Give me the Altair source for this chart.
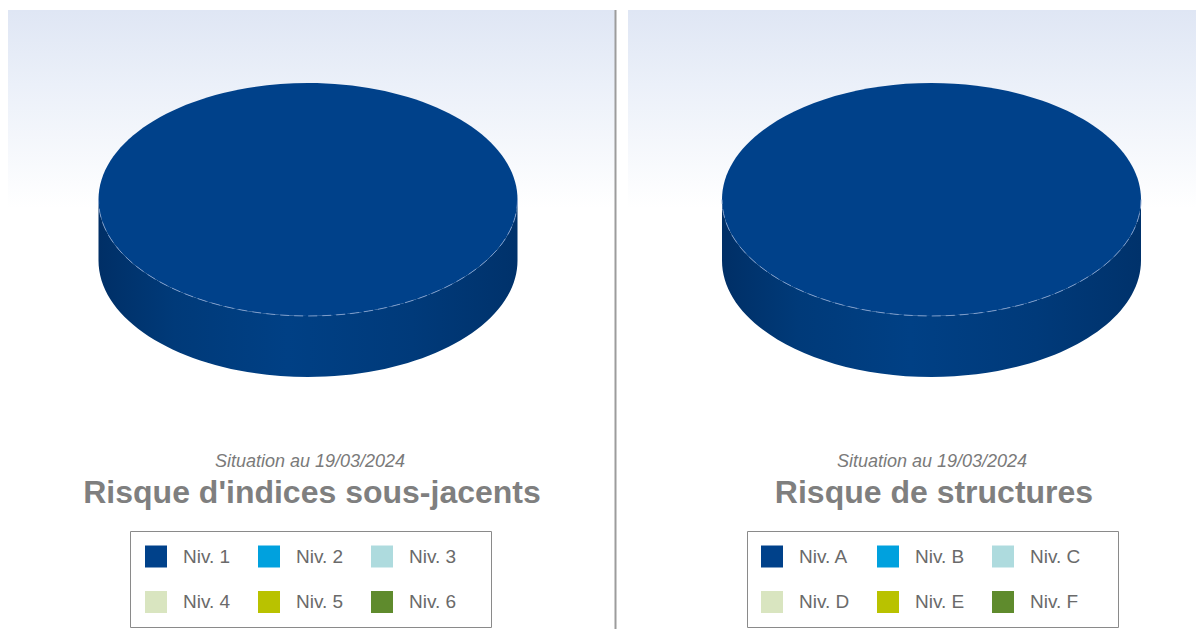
import math
import altair as alt
import pandas as pd

# ---------------- data ----------------
LEVELS_LEFT = ["Niv. 1", "Niv. 2", "Niv. 3", "Niv. 4", "Niv. 5", "Niv. 6"]
VALUES_LEFT = [100, 0, 0, 0, 0, 0]
LEVELS_RIGHT = ["Niv. A", "Niv. B", "Niv. C", "Niv. D", "Niv. E", "Niv. F"]
VALUES_RIGHT = [100, 0, 0, 0, 0, 0]
COLORS = ["#00418a", "#00a1de", "#aedbde", "#d9e5c0", "#b9c200", "#5f8b2d"]
SUBTITLE = "Situation au 19/03/2024"
TITLE_LEFT = "Risque d'indices sous-jacents"
TITLE_RIGHT = "Risque de structures"

# ---------------- style ----------------
FONT = "Liberation Sans"
PANEL_H = 621
RY = 0.556      # vertical / horizontal radius of the pie (tilt)
DEPTH = 0.291   # thickness of the pie, relative to horizontal radius
RX_PX = 209.5
SIZE = (2 * RX_PX) ** 2
SIDE_STOPS = [(0, "#002f66"), (0.18, "#003a79"), (0.45, "#004085"),
              (0.75, "#003a7a"), (1, "#00326b")]


def pt(t, dy):
    return (math.cos(t), RY * math.sin(t) + dy)


def arc_cmds(t0, t1, dy):
    n = max(1, math.ceil(abs(t1 - t0) / (math.pi / 2) - 1e-9))
    step = (t1 - t0) / n
    out = []
    for i in range(n):
        a = t0 + i * step
        b = a + step
        k = 4 / 3 * math.tan((b - a) / 4)
        x0, y0 = pt(a, dy)
        x3, y3 = pt(b, dy)
        x1, y1 = x0 - k * math.sin(a), y0 + k * RY * math.cos(a)
        x2, y2 = x3 + k * math.sin(b), y3 - k * RY * math.cos(b)
        out.append(f"C {x1:.4f} {y1:.4f} {x2:.4f} {y2:.4f} {x3:.4f} {y3:.4f}")
    return " ".join(out)


def slice_paths(a0, a1):
    full = (a1 - a0) >= 2 * math.pi - 1e-9
    x0, y0 = pt(a0, 0)
    if full:
        top = f"M {x0:.4f} {y0:.4f} " + arc_cmds(a0, a1, 0) + " Z"
    else:
        top = f"M 0 0 L {x0:.4f} {y0:.4f} " + arc_cmds(a0, a1, 0) + " Z"
    lo, hi = max(a0, 0.0), min(a1, math.pi)
    side = edge = None
    if hi > lo:
        lx, ly = pt(lo, 0)
        hx, hy = pt(hi, DEPTH)
        side = (f"M {lx:.4f} {ly:.4f} " + arc_cmds(lo, hi, 0)
                + f" L {hx:.4f} {hy:.4f} " + arc_cmds(hi, lo, DEPTH) + " Z")
        edge = f"M {lx:.4f} {ly:.4f} " + arc_cmds(lo, hi, 0)
    return top, side, edge


def one():
    return alt.Data(values=[{}])


def panel(levels, values, title, width, cx, tx, box, leg_x, divider):
    cy = 191.5
    df = pd.DataFrame({"niveau": levels, "valeur": values})
    color = alt.Color(
        "niveau:N",
        scale=alt.Scale(domain=levels, range=COLORS),
        legend=alt.Legend(
            orient="none", legendX=leg_x, legendY=537.5, columns=3,
            direction="horizontal",
            symbolType="square", symbolSize=484, symbolStrokeWidth=0,
            symbolOpacity=1,
            labelFont=FONT, labelFontSize=19, labelColor="#6a6a6a",
            labelOffset=16, columnPadding=27, rowPadding=23.5,
            padding=0, title=None,
        ),
    )
    layers = []
    bg = alt.Chart(one()).mark_rect(
        fill=alt.LinearGradient(
            gradient="linear", x1=0, y1=0, x2=0, y2=1,
            stops=[alt.GradientStop(offset=0, color="#dfe6f4"),
                   alt.GradientStop(offset=0.12, color="#ebf0f9"),
                   alt.GradientStop(offset=0.32, color="#ffffff"),
                   alt.GradientStop(offset=1, color="#ffffff")]),
    ).encode(x=alt.value(0), x2=alt.value(width if not divider else 607),
             y=alt.value(2), y2=alt.value(PANEL_H))
    layers.append(bg)
    if divider:
        layers.append(alt.Chart(one()).mark_rule(stroke="#9c9c9c", strokeWidth=2).encode(
            x=alt.value(607.5), y=alt.value(2), y2=alt.value(PANEL_H)))

    total = sum(values)
    start = -math.pi / 2
    for lev, val in zip(levels, values):
        if val <= 0:
            continue
        a0 = start
        a1 = start + 2 * math.pi * val / total
        start = a1
        top, side, edge = slice_paths(a0, a1)
        row = df[df["niveau"] == lev]
        if side:
            layers.append(alt.Chart(row).mark_point(
                shape=side, filled=True, size=SIZE, opacity=1, strokeWidth=0,
                fill=alt.LinearGradient(
                    gradient="linear", x1=0, y1=0, x2=1, y2=0,
                    stops=[alt.GradientStop(offset=o, color=c) for o, c in SIDE_STOPS]),
            ).encode(x=alt.value(cx), y=alt.value(cy)))
        layers.append(alt.Chart(row).mark_point(
            shape=top, filled=True, size=SIZE, opacity=1, strokeWidth=0,
        ).encode(x=alt.value(cx), y=alt.value(cy), color=color))
        if edge:
            layers.append(alt.Chart(row).mark_point(
                shape=edge, filled=False, size=SIZE, opacity=0.9,
                stroke="#86a3cf", strokeWidth=1, strokeDash=[9, 5],
            ).encode(x=alt.value(cx), y=alt.value(cy)))

    layers.append(alt.Chart(pd.DataFrame({"t": [SUBTITLE]})).mark_text(
        font=FONT, fontSize=18, fontStyle="italic", color="#7a7a7a",
        align="center", baseline="alphabetic",
    ).encode(text="t:N", x=alt.value(tx - 2), y=alt.value(458.5)))
    layers.append(alt.Chart(pd.DataFrame({"t": [title]})).mark_text(
        font=FONT, fontSize=32, fontWeight="bold", color="#7f7f7f",
        align="center", baseline="alphabetic",
    ).encode(text="t:N", x=alt.value(tx), y=alt.value(495)))
    layers.append(alt.Chart(one()).mark_rect(
        fill="white", stroke="#8a8a8a", strokeWidth=1,
    ).encode(x=alt.value(box[0]), x2=alt.value(box[1]),
             y=alt.value(523.5), y2=alt.value(619.5)))
    return alt.layer(*layers).properties(width=width, height=PANEL_H)


left = panel(LEVELS_LEFT, VALUES_LEFT, TITLE_LEFT, 612, 300, 304,
             (122.5, 483.5), 137, True)
right = panel(LEVELS_RIGHT, VALUES_RIGHT, TITLE_RIGHT, 568, 303.5, 306,
              (119.5, 490.5), 133, False)

chart = alt.hconcat(left, right, spacing=8, bounds="flush").resolve_scale(
    color="independent").resolve_legend(color="independent").configure_view(
    strokeWidth=0).properties(padding=0, background="white")

chart.save("out.html", embed_options={"renderer": "svg", "actions": False})
